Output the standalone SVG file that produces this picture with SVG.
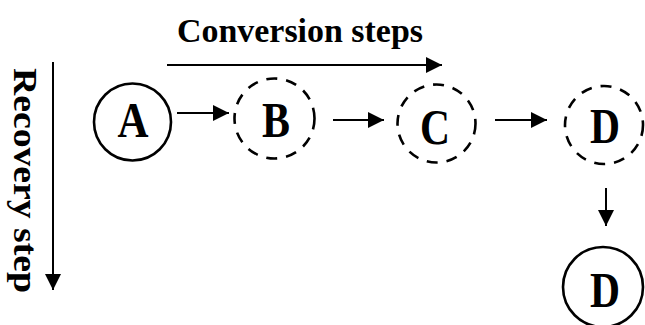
<svg xmlns="http://www.w3.org/2000/svg" width="645" height="325" viewBox="0 0 645 325">
<defs>
<marker id="ah" viewBox="0 0 10 10" refX="10" refY="5" markerWidth="8" markerHeight="8" markerUnits="userSpaceOnUse" orient="auto">
<path d="M0,0 L10,5 L0,10 Z" fill="#000"/>
</marker>
<marker id="ahs" viewBox="0 0 10 10" refX="10" refY="5" markerWidth="16" markerHeight="16" markerUnits="userSpaceOnUse" orient="auto">
<path d="M0,0 L10,5 L0,10 Z" fill="#000"/>
</marker>
</defs>
<style>
.lbl{font-family:"Liberation Serif","Times New Roman",serif;font-weight:bold;fill:#000}
.node{font-family:"Liberation Serif","Times New Roman",serif;font-weight:bold;font-size:50px;fill:#000;text-anchor:middle}
.solid{fill:none;stroke:#000;stroke-width:2.6}
.dash{fill:none;stroke:#000;stroke-width:2.6;stroke-dasharray:11 9}
.conn{stroke:#000;stroke-width:2;fill:none}
</style>
<rect width="645" height="325" fill="#fff"/>
<text class="lbl" x="177" y="42" font-size="34" textLength="246" lengthAdjust="spacingAndGlyphs">Conversion steps</text>
<text class="lbl" font-size="34" transform="translate(14,68) rotate(90)" textLength="225" lengthAdjust="spacingAndGlyphs">Recovery step</text>
<g id="axes">
<line class="conn" x1="167" y1="65" x2="442" y2="65" marker-end="url(#ahs)"/>
<line class="conn" x1="53" y1="62" x2="53" y2="290" marker-end="url(#ahs)"/>
</g>
<g id="nodeA">
<circle class="solid" cx="132.5" cy="122" r="38.5"/>
<text class="node" x="133" y="137" textLength="31" lengthAdjust="spacingAndGlyphs">A</text>
</g>
<g id="nodeB">
<circle class="dash" cx="274.5" cy="118.5" r="40"/>
<text class="node" x="276" y="137" textLength="28" lengthAdjust="spacingAndGlyphs">B</text>
</g>
<g id="nodeC">
<circle class="dash" cx="436.5" cy="123.5" r="39"/>
<text class="node" x="435" y="144" textLength="30" lengthAdjust="spacingAndGlyphs">C</text>
</g>
<g id="nodeD1">
<circle class="dash" cx="604" cy="125" r="39"/>
<text class="node" x="605" y="143" textLength="30" lengthAdjust="spacingAndGlyphs">D</text>
</g>
<g id="nodeD2">
<circle class="solid" cx="603" cy="287" r="40"/>
<text class="node" x="605" y="307" textLength="30" lengthAdjust="spacingAndGlyphs">D</text>
</g>
<g id="connectors">
<line class="conn" x1="177" y1="113" x2="229" y2="113" marker-end="url(#ahs)"/>
<line class="conn" x1="333" y1="120" x2="384" y2="120" marker-end="url(#ahs)"/>
<line class="conn" x1="495" y1="120" x2="547" y2="120" marker-end="url(#ahs)"/>
<line class="conn" x1="606" y1="188" x2="606" y2="226" marker-end="url(#ahs)"/>
</g>
</svg>
